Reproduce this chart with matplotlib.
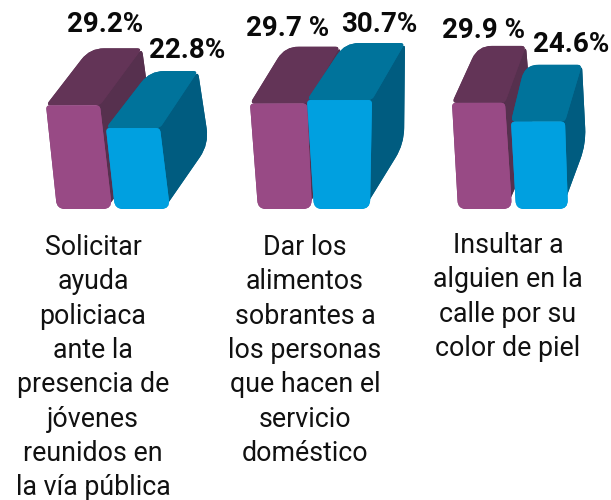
import numpy as np
import matplotlib
matplotlib.use("Agg")
import matplotlib.pyplot as plt
from matplotlib.path import Path
from matplotlib.patches import PathPatch
from matplotlib.colors import LinearSegmentedColormap

# ---- data ----
categories = [
    "Solicitar\nayuda\npoliciaca\nante la\npresencia de\njóvenes\nreunidos en\nla vía pública",
    "Dar los\nalimentos\nsobrantes a\nlos personas\nque hacen el\nservicio\ndoméstico",
    "Insultar a\nalguien en la\ncalle por su\ncolor de piel",
]
series_purple = [29.2, 29.7, 29.9]
series_blue = [22.8, 30.7, 24.6]
labels_purple = ["29.2%", "29.7 %", "29.9 %"]
labels_blue = ["22.8%", "30.7%", "24.6%"]

# ---- layout (pixels) ----
W, H = 611, 500
BASE_PX = 209.0
PX_PER_UNIT = 3.55
DEPTH_PX = 57.0
# (bottom-left, bottom-right, top-left, top-right, depth-x-left, depth-x-right)
geom_purple = [(57, 112, 46, 100, 44, 42), (258, 312, 250, 307, 35, 33), (458, 512, 452, 505, 26, 21)]
geom_blue = [(115, 170, 106, 160, 44, 38), (314, 370, 307, 372, 38, 33), (516, 568, 511, 565, 14, 17)]
text_x = [93, 305, 508]
text_top = [234, 234, 232]
pos_purple = [(105, 24), (288, 28), (484, 30)]
pos_blue = [(187, 50), (379, 25), (571, 45)]

FRONT_P = ["#6f3b66", "#83437a", "#984a85", "#a04c8a"]
TOP_P = ["#5f3356", "#633457"]
SIDE_P = ["#623558", "#56304e"]
FRONT_B = ["#1b8fc6", "#009fdf", "#00a0e0", "#0a9bd8"]
TOP_B = ["#006f96", "#00739b"]
SIDE_B = ["#00709a", "#005c80"]

fig = plt.figure(figsize=(W / 100, H / 100), dpi=100)
ax = fig.add_axes([0, 0, 1, 1])
ax.set_xlim(0, W)
ax.set_ylim(-(H - BASE_PX) / PX_PER_UNIT, BASE_PX / PX_PER_UNIT)
ax.axis("off")


def to_y(px):
    return (BASE_PX - px) / PX_PER_UNIT


def rounded(points, radius):
    """Closed path through points (x, value) with rounded corners."""
    pts = np.array([(x, y * PX_PER_UNIT) for x, y in points], float)
    n = len(pts)
    verts, codes = [], []
    for i in range(n):
        p, c, q = pts[i - 1], pts[i], pts[(i + 1) % n]
        r = radius[i]
        a = c + (p - c) * min(r / np.linalg.norm(p - c), 0.5)
        b = c + (q - c) * min(r / np.linalg.norm(q - c), 0.5)
        verts.append(a)
        codes.append(Path.MOVETO if i == 0 else Path.LINETO)
        verts.extend([c, b])
        codes.extend([Path.CURVE3, Path.CURVE3])
    verts.append(verts[0])
    codes.append(Path.CLOSEPOLY)
    verts = np.array(verts)
    verts[:, 1] /= PX_PER_UNIT
    return Path(verts, codes)


def shaded(path, colors, z):
    ext = path.get_extents()
    cmap = LinearSegmentedColormap.from_list("c", colors)
    im = ax.imshow(np.linspace(0, 1, 128)[None, :], cmap=cmap, aspect="auto", zorder=z,
                   extent=[ext.x0, ext.x1, ext.y0, ext.y1], interpolation="bilinear")
    patch = PathPatch(path, facecolor=colors[len(colors) // 2], edgecolor="none",
                      transform=ax.transData, zorder=z)
    ax.add_patch(patch)
    im.set_clip_path(patch)


def bar3d(value, g, front, top, side, z):
    bl, br, tl, tr, dl, dr = g
    d = DEPTH_PX / PX_PER_UNIT
    drop = 8.0 / PX_PER_UNIT
    shaded(rounded([(tr - 4, value), (tr + dr, value + d), (br + dr + 1, d + drop), (br - 6, 0)], [3, 6, 16, 8]), side, z)
    shaded(rounded([(tl, value), (tl + dl, value + d), (tr + dr, value + d), (tr, value)], [5, 14, 5, 4]), top, z + 0.1)
    shaded(rounded([(tl, value), (tr, value), (br, 0), (bl, 0)], [4, 4, 9, 8]), front, z + 0.2)


for i in range(len(categories)):
    bar3d(series_purple[i], geom_purple[i], FRONT_P, TOP_P, SIDE_P, 2 + i)
    bar3d(series_blue[i], geom_blue[i], FRONT_B, TOP_B, SIDE_B, 2.5 + i)

    ax.text(text_x[i], to_y(text_top[i]), categories[i], ha="center", va="top",
            family="Roboto", fontsize=19.3, color="#111111", linespacing=1.35)
    for lab, (x, y) in ((labels_purple[i], pos_purple[i]), (labels_blue[i], pos_blue[i])):
        ax.text(x, to_y(y), lab, ha="center", va="center", family="Roboto",
                fontweight="bold", fontsize=20, color="#0a0a0a", zorder=10)

ax.set_xlim(0, W)
ax.set_ylim(-(H - BASE_PX) / PX_PER_UNIT, BASE_PX / PX_PER_UNIT)
fig.savefig("out.png", dpi=100, facecolor="white")
